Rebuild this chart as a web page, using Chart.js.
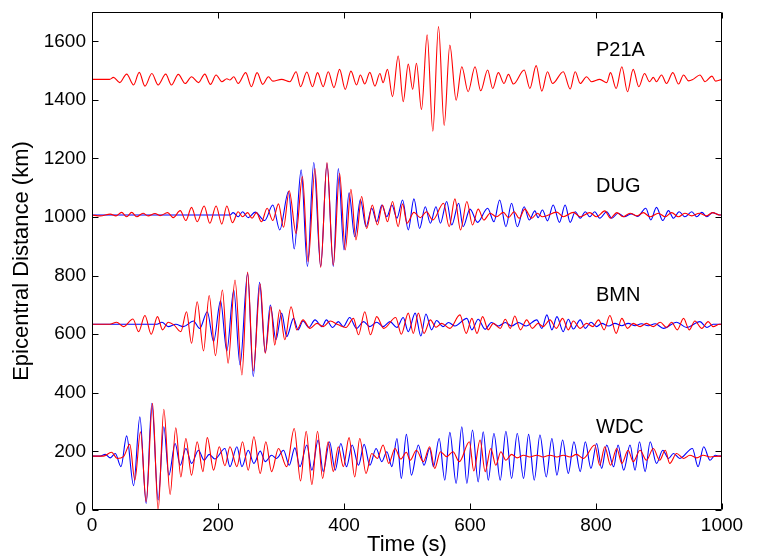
<!DOCTYPE html>
<html>
<head>
<meta charset="utf-8">
<script src="https://cdn.jsdelivr.net/npm/chart.js@4"></script>
<style>
  html, body { margin: 0; padding: 0; background: #fff; }
  #wrap { width: 761px; height: 558px; position: relative; }
</style>
</head>
<body>
<div id="wrap"><canvas id="c"></canvas></div>
<script>
// ---- Axis ticks ----
const xTicks = [0, 200, 400, 600, 800, 1000];
const yTicks = [0, 200, 400, 600, 800, 1000, 1200, 1400, 1600];

// ---- Stations (name, epicentral distance in km) ----
const stationNames = ['P21A', 'DUG', 'BMN', 'WDC'];
const stationDistances = [1470, 1007, 634, 184];

// ---- Waveforms: [time (s), amplitude offset (km units)] ----
const p21aRed = [[0,0],[28,0],[34,7],[44,-11],[55,18],[66,-19],[75,24],[84,-23],[95,20],[105,-19],[117,18],[126,-19],[137,17],[148,-14],[158,9],[169,-11],[179,18],[188,-17],[197,15],[206,-8],[214,2],[219,-2],[225,9],[232,-14],[244,23],[253,-25],[262,23],[271,-17],[280,9],[287,-6],[301,0],[314,-8],[324,26],[331,-25],[341,25],[350,-25],[358,23],[367,-25],[375,26],[384,-28],[393,34],[402,-34],[411,28],[420,-19],[426,15],[433,-16],[441,24],[449,-23],[457,20],[462,-11],[469,34],[477,-59],[486,80],[494,-76],[502,52],[509,-34],[515,55],[523,-103],[532,152],[541,-177],[550,180],[559,-157],[568,117],[578,-71],[587,43],[597,-42],[608,43],[617,-39],[628,32],[636,-31],[645,23],[654,-14],[661,17],[669,-16],[686,32],[695,-31],[705,47],[714,-40],[723,26],[731,-14],[748,26],[759,-33],[767,26],[775,-14],[785,9],[793,-8],[806,0],[817,-11],[823,23],[832,-31],[841,43],[850,-42],[859,34],[868,-25],[877,20],[885,-8],[891,7],[896,-8],[904,15],[912,-14],[922,23],[931,-16],[939,15],[947,-5],[954,0],[965,15],[973,-8],[984,11],[990,-6],[1000,0]];

const dugRed = [[0,0],[13,-3],[29,3],[38,-3],[47,9],[55,-6],[63,9],[71,-6],[81,6],[89,-3],[100,5],[108,-2],[120,8],[129,-9],[140,15],[149,-19],[158,26],[167,-23],[178,31],[187,-28],[197,31],[206,-31],[214,31],[223,-26],[232,11],[239,-6],[247,8],[254,-11],[261,8],[269,-23],[278,23],[287,-19],[296,38],[304,-42],[313,83],[324,-63],[334,131],[343,-159],[354,159],[363,-179],[373,179],[383,-171],[393,142],[402,-119],[411,88],[419,-85],[428,63],[436,-46],[445,34],[453,-34],[461,34],[469,-23],[477,46],[486,-40],[493,38],[500,-28],[511,9],[521,-9],[531,11],[541,-17],[558,40],[567,-40],[576,55],[585,-51],[595,46],[604,-34],[613,20],[622,-17],[632,6],[642,-6],[653,9],[661,-9],[670,11],[678,-11],[687,20],[698,-11],[707,6],[715,-6],[738,10],[748,-6],[764,9],[775,-6],[790,8],[801,-6],[814,14],[823,-11],[833,8],[843,-6],[854,6],[865,-3],[875,8],[886,-6],[899,6],[910,-6],[920,8],[931,-6],[941,6],[952,-3],[964,6],[975,-3],[985,8],[996,0],[1000,0]];

const dugBlue = [[0,0],[219,0],[224,8],[232,-6],[239,11],[248,-9],[259,10],[274,-19],[287,34],[298,-51],[312,80],[321,-116],[332,154],[342,-176],[352,179],[363,-176],[373,176],[383,-176],[391,159],[400,-119],[408,76],[417,-74],[426,53],[435,-40],[444,23],[452,-23],[460,34],[468,-6],[476,34],[484,-11],[493,51],[502,-51],[511,55],[520,-46],[529,28],[537,-28],[546,28],[553,-28],[563,46],[571,-34],[582,40],[589,-40],[600,20],[612,-25],[628,23],[638,-23],[647,51],[657,-40],[666,40],[675,-40],[686,28],[694,-17],[703,14],[708,-9],[715,17],[723,-20],[732,34],[742,-25],[751,34],[759,-25],[767,11],[775,-11],[783,11],[790,-6],[798,11],[806,-11],[817,11],[825,-11],[835,6],[845,-6],[856,4],[866,-5],[879,23],[887,-17],[896,26],[906,-19],[915,15],[923,-11],[932,11],[941,-6],[952,11],[960,-6],[968,9],[976,-6],[985,8],[996,0],[1000,0]];

const bmnRed = [[0,0],[28,0],[39,7],[50,-8],[65,18],[74,-25],[84,30],[94,-34],[104,26],[112,-19],[121,7],[130,-2],[141,-25],[150,43],[158,-65],[167,77],[177,-91],[186,98],[196,-107],[207,117],[216,-133],[227,151],[238,-173],[247,178],[256,-159],[267,137],[275,-99],[284,60],[290,-71],[298,49],[306,-53],[316,60],[325,-19],[335,15],[346,-14],[357,3],[367,-8],[378,11],[391,-2],[403,-11],[415,20],[423,-36],[433,43],[442,-36],[452,26],[463,-14],[482,23],[491,-34],[502,38],[510,-31],[518,38],[527,-31],[537,15],[546,-10],[555,3],[568,-14],[584,32],[594,-31],[603,20],[611,-31],[620,26],[629,-19],[637,3],[648,-14],[656,17],[664,-14],[671,28],[680,-19],[690,15],[699,-14],[708,3],[716,-8],[727,15],[737,-14],[747,20],[756,-19],[764,11],[775,-14],[785,3],[795,-8],[804,15],[813,-19],[822,30],[832,-31],[841,20],[850,-14],[859,3],[870,-8],[880,3],[891,-8],[902,7],[912,-11],[920,7],[929,-19],[939,20],[948,-19],[957,11],[968,-14],[978,9],[986,-8],[996,0],[1000,0]];

const bmnBlue = [[0,0],[103,0],[111,7],[121,-8],[133,0],[145,-8],[161,11],[171,-14],[183,43],[193,-59],[204,80],[214,-91],[225,117],[235,-139],[247,174],[256,-179],[266,143],[275,-96],[283,66],[292,-53],[301,38],[309,-42],[320,20],[327,-19],[335,11],[344,-11],[354,15],[365,-8],[372,15],[382,-11],[391,9],[399,-8],[409,23],[420,-14],[431,9],[441,-8],[452,7],[462,-8],[473,9],[484,-11],[494,23],[502,-25],[513,38],[522,-40],[530,35],[539,-19],[547,13],[557,-8],[566,6],[576,-6],[595,20],[603,-19],[613,17],[624,-17],[634,6],[645,-6],[656,6],[666,-6],[677,6],[689,-6],[706,15],[714,-14],[722,32],[730,-19],[738,26],[748,-25],[756,17],[764,-16],[775,15],[783,-14],[792,7],[801,-8],[809,3],[820,-6],[830,3],[841,-5],[851,3],[862,-5],[872,2],[883,-5],[894,2],[907,-14],[928,7],[944,-11],[965,9],[976,-11],[986,0],[1000,0]];

const wdcRed = [[0,0],[18,0],[31,13],[40,-8],[50,-2],[60,40],[68,-82],[77,83],[86,-156],[96,180],[105,-184],[114,160],[124,-131],[133,97],[141,-71],[149,60],[158,-65],[167,49],[176,-53],[183,63],[193,-48],[202,32],[211,-33],[219,32],[230,-36],[239,49],[248,-48],[257,66],[267,-59],[276,49],[285,-53],[296,26],[309,-36],[321,94],[331,-85],[340,85],[349,-97],[358,85],[366,-76],[375,49],[383,-53],[391,32],[399,-36],[408,63],[417,-71],[425,60],[435,-59],[444,9],[453,-8],[462,38],[471,-25],[481,26],[490,-10],[499,13],[505,-14],[515,20],[526,-19],[536,32],[544,-42],[553,15],[563,-2],[573,15],[583,-19],[599,49],[606,-51],[616,55],[624,-53],[633,26],[641,-31],[649,15],[657,-14],[666,6],[675,-6],[685,3],[695,-3],[706,3],[716,-3],[727,3],[738,-3],[748,3],[759,-3],[769,6],[780,-8],[798,38],[806,-31],[814,32],[823,-31],[833,26],[841,-25],[851,20],[859,-19],[870,20],[880,-14],[891,26],[901,-14],[910,20],[917,-25],[928,9],[939,-8],[949,3],[960,-6],[970,3],[981,-3],[996,0],[1000,0]];

const wdcBlue = [[0,0],[13,0],[21,6],[29,-6],[37,9],[46,-36],[55,69],[66,-101],[76,134],[86,-162],[95,180],[105,-150],[114,100],[122,-65],[132,43],[140,-31],[149,26],[158,-25],[169,20],[178,-14],[186,6],[195,-10],[211,26],[219,-36],[230,32],[238,-36],[248,20],[257,-25],[267,17],[275,-19],[285,3],[293,-8],[304,20],[313,-31],[322,28],[330,-36],[341,38],[349,-48],[359,55],[367,-53],[377,49],[386,-48],[395,43],[404,-36],[413,38],[423,-31],[432,40],[441,-31],[451,26],[460,-19],[468,15],[476,-36],[484,60],[491,-76],[499,74],[507,-65],[518,38],[527,-31],[536,26],[542,-36],[551,60],[560,-82],[568,81],[578,-93],[587,100],[595,-93],[604,89],[613,-88],[621,83],[629,-82],[638,77],[648,-82],[657,85],[666,-76],[675,77],[685,-76],[693,74],[702,-82],[711,72],[721,-71],[730,60],[738,-65],[747,55],[756,-59],[765,49],[775,-53],[783,49],[792,-42],[801,43],[809,-42],[817,38],[828,-36],[835,38],[844,-48],[854,38],[862,-48],[869,49],[878,-53],[886,49],[896,-25],[906,20],[915,-8],[923,9],[933,-8],[953,26],[962,-36],[971,32],[981,-14],[989,3],[996,0],[1000,0]];

const RED = 'rgb(255,0,0)';
const BLUE = 'rgb(0,0,255)';

function trace(pairs, base, color) {
  return {
    data: pairs.map(p => ({ x: p[0], y: base + p[1] })),
    borderColor: color,
    borderWidth: 1.1,
    pointRadius: 0,
    fill: false,
    cubicInterpolationMode: 'monotone',
  };
}

const datasets = [
  trace(p21aRed, stationDistances[0], RED),
  trace(dugRed, stationDistances[1], RED),
  trace(bmnRed, stationDistances[2], RED),
  trace(wdcRed, stationDistances[3], RED),
  trace(dugBlue, stationDistances[1], BLUE),
  trace(bmnBlue, stationDistances[2], BLUE),
  trace(wdcBlue, stationDistances[3], BLUE),
];

const FONT = 'Liberation Sans, Arial, Helvetica, sans-serif';

const framePlugin = {
  id: 'frame',
  afterDatasetsDraw(chart) {
    const { ctx, chartArea: a, scales: { x, y } } = chart;
    ctx.save();
    ctx.strokeStyle = '#000';
    ctx.lineWidth = 1;
    const L = Math.round(a.left) + 0.5, R = Math.round(a.right) - 0.5;
    const T = Math.round(a.top) + 0.5, B = Math.round(a.bottom) - 0.5;
    ctx.beginPath();
    ctx.rect(L, T, R - L, B - T);
    const tl = 6;
    xTicks.forEach(v => {
      const px = Math.round(x.getPixelForValue(v)) + 0.5;
      ctx.moveTo(px, B); ctx.lineTo(px, B - tl);
      ctx.moveTo(px, T); ctx.lineTo(px, T + tl);
    });
    yTicks.forEach(v => {
      const py = Math.round(y.getPixelForValue(v)) + 0.5;
      ctx.moveTo(L, py); ctx.lineTo(L + tl, py);
      ctx.moveTo(R, py); ctx.lineTo(R - tl, py);
    });
    ctx.stroke();
    // station labels
    ctx.fillStyle = '#000';
    ctx.font = '20px ' + FONT;
    ctx.textAlign = 'left';
    ctx.textBaseline = 'middle';
    stationNames.forEach((name, i) => {
      ctx.fillText(name, x.getPixelForValue(800), y.getPixelForValue(stationDistances[i] + 97));
    });
    ctx.restore();
  }
};

const plainLabel = v => String(v);

new Chart(document.getElementById('c'), {
  type: 'line',
  data: { datasets },
  plugins: [framePlugin],
  options: {
    responsive: true,
    maintainAspectRatio: false,
    animation: false,
    layout: { padding: { left: 0, right: 39, top: 12, bottom: 0 } },
    plugins: { legend: { display: false }, tooltip: { enabled: false } },
    scales: {
      x: {
        type: 'linear',
        min: 0, max: 1000,
        afterBuildTicks: s => { s.ticks = xTicks.map(v => ({ value: v })); },
        afterFit: s => { s.height = 48; s.paddingLeft = 0; s.paddingRight = 0; },
        grid: { display: false, drawTicks: false },
        border: { display: false },
        ticks: { color: '#000', padding: 4, maxRotation: 0, callback: plainLabel, font: { family: FONT, size: 19 } },
        title: { display: true, text: 'Time (s)', color: '#000', padding: { top: 0, bottom: 0 }, font: { family: FONT, size: 22 } }
      },
      y: {
        type: 'linear',
        min: 0, max: 1700,
        afterBuildTicks: s => { s.ticks = yTicks.map(v => ({ value: v })); },
        afterFit: s => { s.width = 92; s.paddingTop = 0; s.paddingBottom = 0; },
        grid: { display: false, drawTicks: false },
        border: { display: false },
        ticks: { color: '#000', padding: 6, callback: plainLabel, font: { family: FONT, size: 19 } },
        title: { display: true, text: 'Epicentral Distance (km)', color: '#000', padding: { top: 9, bottom: 0 }, font: { family: FONT, size: 22 } }
      }
    }
  }
});
</script>
</body>
</html>
